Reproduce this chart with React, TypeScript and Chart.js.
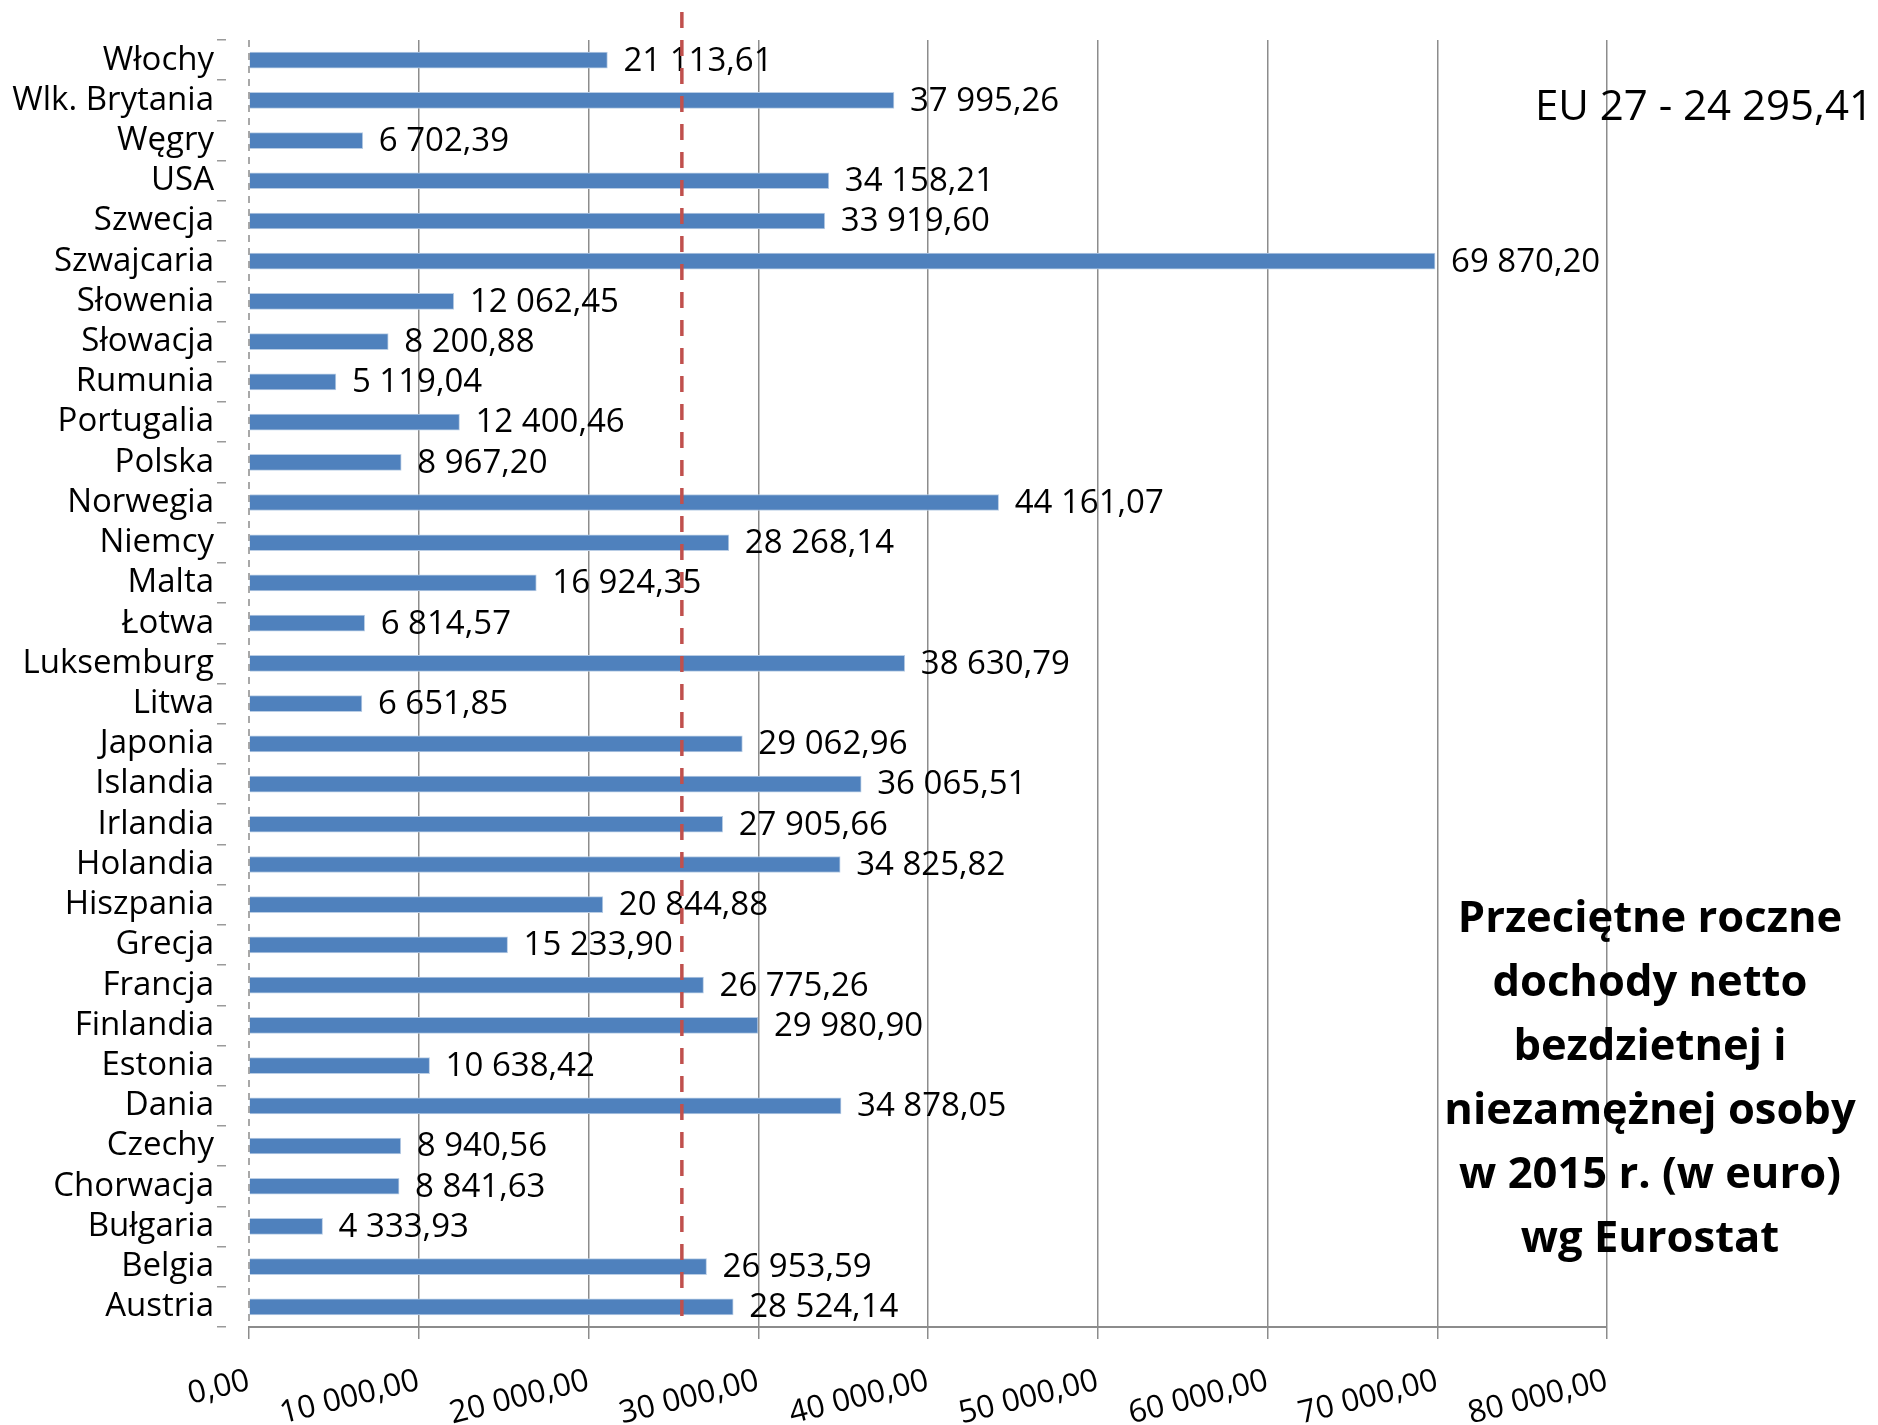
import React, { useEffect, useRef } from "react";
import { Chart, registerables } from "chart.js";

Chart.register(...registerables);

const categories = [
  "Włochy",
  "Wlk. Brytania",
  "Węgry",
  "USA",
  "Szwecja",
  "Szwajcaria",
  "Słowenia",
  "Słowacja",
  "Rumunia",
  "Portugalia",
  "Polska",
  "Norwegia",
  "Niemcy",
  "Malta",
  "Łotwa",
  "Luksemburg",
  "Litwa",
  "Japonia",
  "Islandia",
  "Irlandia",
  "Holandia",
  "Hiszpania",
  "Grecja",
  "Francja",
  "Finlandia",
  "Estonia",
  "Dania",
  "Czechy",
  "Chorwacja",
  "Bułgaria",
  "Belgia",
  "Austria",
];

const incomeValues = [
  21113.61, 37995.26, 6702.39, 34158.21, 33919.6, 69870.2, 12062.45, 8200.88,
  5119.04, 12400.46, 8967.2, 44161.07, 28268.14, 16924.35, 6814.57, 38630.79,
  6651.85, 29062.96, 36065.51, 27905.66, 34825.82, 20844.88, 15233.9, 26775.26,
  29980.9, 10638.42, 34878.05, 8940.56, 8841.63, 4333.93, 26953.59, 28524.14,
];

const xTickValues = [0, 10000, 20000, 30000, 40000, 50000, 60000, 70000, 80000];

const referenceLineValue = 25500;

const euText = "EU 27 - 24 295,41";

const titleLines = [
  "Przeciętne roczne",
  "dochody netto",
  "bezdzietnej i",
  "niezamężnej osoby",
  "w 2015 r. (w euro)",
  "wg Eurostat",
];

function fmt(v: number): string {
  const [intPart, dec] = v.toFixed(2).split(".");
  const grouped = intPart.replace(/\B(?=(\d{3})+(?!\d))/g, " ");
  return grouped + "," + dec;
}

const FONT = "'Open Sans', 'Noto Sans', sans-serif";

const valueLabelsPlugin = {
  id: "valueLabels",
  afterDatasetsDraw(chart: any) {
    const ctx = chart.ctx;
    const meta = chart.getDatasetMeta(0);
    const data = chart.data.datasets[0].data;
    ctx.save();
    ctx.font = `33px ${FONT}`;
    ctx.fillStyle = "#000";
    ctx.textAlign = "left";
    ctx.textBaseline = "middle";
    meta.data.forEach((el: any, i: number) => {
      ctx.fillText(fmt(data[i]), el.x + 16, el.y + 1);
    });
    ctx.restore();
  },
};

const linesPlugin = {
  id: "refLines",
  afterDatasetsDraw(chart: any) {
    const ctx = chart.ctx;
    const xs = chart.scales.x;
    const area = chart.chartArea;
    ctx.save();
    const x0 = xs.getPixelForValue(0);
    ctx.strokeStyle = "#8c8c8c";
    ctx.lineWidth = 1.5;
    ctx.setLineDash([7, 6]);
    ctx.beginPath();
    ctx.moveTo(x0, area.top);
    ctx.lineTo(x0, area.bottom);
    ctx.stroke();
    const xr = xs.getPixelForValue(referenceLineValue);
    ctx.strokeStyle = "#C0504D";
    ctx.lineWidth = 3.5;
    ctx.setLineDash([16, 12]);
    ctx.beginPath();
    ctx.moveTo(xr, area.top - 28);
    ctx.lineTo(xr, area.bottom - 11);
    ctx.stroke();
    ctx.restore();
  },
};

export default function App() {
  const canvasRef = useRef<HTMLCanvasElement | null>(null);

  useEffect(() => {
    document.body.style.margin = "0";
    const canvas = canvasRef.current;
    if (!canvas) return;
    Chart.defaults.font.family = FONT;
    const chart = new Chart(canvas, {
      type: "bar",
      data: {
        labels: categories,
        datasets: [
          {
            data: incomeValues,
            backgroundColor: "#4F81BD",
            borderColor: "#B9CDE5",
            borderWidth: 1,
            barThickness: 16,
          },
        ],
      },
      options: {
        indexAxis: "y",
        responsive: false,
        animation: false,
        layout: { padding: { top: 40, right: 271, left: 0, bottom: 0 } },
        plugins: {
          legend: { display: false },
          tooltip: { enabled: false },
          title: { display: false },
        },
        scales: {
          x: {
            min: 0,
            max: 80000,
            afterBuildTicks: (s: any) => {
              s.ticks = xTickValues.map((v) => ({ value: v }));
            },
            ticks: {
              autoSkip: false,
              minRotation: 14,
              maxRotation: 14,
              color: "#000",
              font: { size: 31.5 },
              padding: 23,
              callback: (v: any) => fmt(Number(v)),
            },
            grid: {
              color: (c: any) =>
                c.tick && c.tick.value === 0 ? "rgba(0,0,0,0)" : "#8c8c8c",
              lineWidth: 1.5,
              tickLength: 12,
              tickColor: "#8c8c8c",
              tickWidth: 1.5,
            },
            border: { display: true, color: "#8c8c8c", width: 2 },
            afterFit: (s: any) => {
              s.height = 98;
            },
          },
          y: {
            ticks: {
              color: "#000",
              font: { size: 33 },
              padding: 0,
              autoSkip: false,
            },
            grid: {
              drawOnChartArea: false,
              drawTicks: true,
              tickLength: 35,
              color: "#9a9a9a",
              lineWidth: 1.5,
              tickBorderDash: [0, 3, 9, 200],
            },
            border: { display: false },
            afterFit: (s: any) => {
              s.width = 249;
            },
          },
        },
      } as any,
      plugins: [valueLabelsPlugin, linesPlugin],
    });
    return () => chart.destroy();
  }, []);

  return (
    <div
      style={{
        position: "absolute",
        left: 0,
        top: 0,
        width: 1878,
        height: 1425,
        background: "#fff",
        overflow: "hidden",
      }}
    >
      <canvas ref={canvasRef} width={1878} height={1425} style={{ display: "block" }} />
      <div
        style={{
          position: "absolute",
          right: 5,
          top: 83,
          fontFamily: FONT,
          fontSize: 42,
          lineHeight: "42px",
          color: "#000",
          whiteSpace: "nowrap",
        }}
      >
        {euText}
      </div>
      <div
        style={{
          position: "absolute",
          left: 1400,
          width: 500,
          top: 884,
          fontFamily: FONT,
          fontSize: 43.5,
          fontWeight: 700,
          lineHeight: "64px",
          textAlign: "center",
          color: "#000",
          whiteSpace: "nowrap",
        }}
      >
        {titleLines.map((t, i) => (
          <div key={i}>{t}</div>
        ))}
      </div>
    </div>
  );
}
